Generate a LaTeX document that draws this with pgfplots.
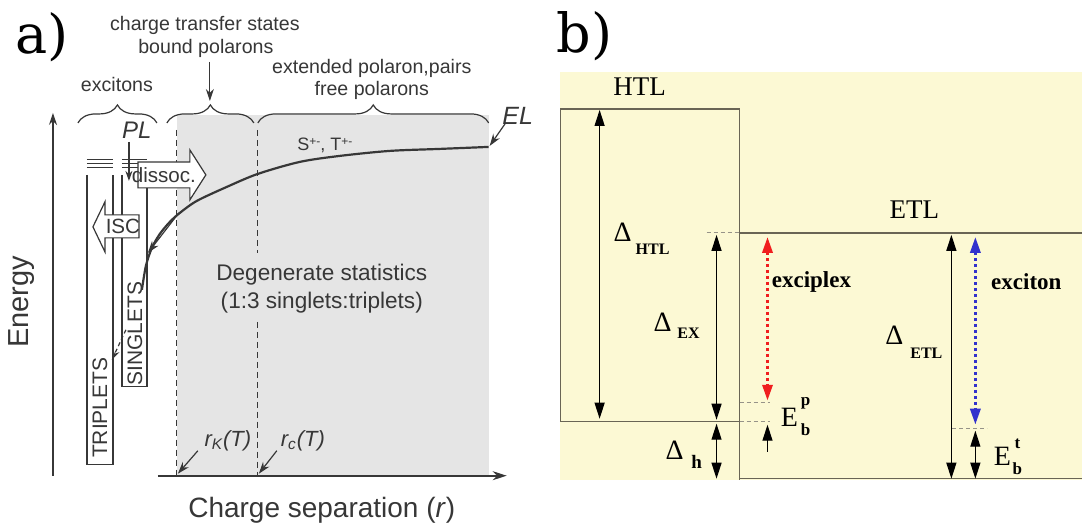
\documentclass[border=0pt]{standalone}
\usepackage{pgfplots}
\pgfplotsset{compat=1.18}
\usepackage{fontspec}
\setmainfont{Liberation Sans}
\newfontfamily\tnr{Liberation Serif}
\newfontfamily\djs{DejaVu Serif}
\usetikzlibrary{arrows.meta,decorations.pathreplacing}
\definecolor{shade}{RGB}{229,229,229}
\definecolor{yel}{RGB}{252,249,212}
\definecolor{ln}{RGB}{55,55,55}
\definecolor{boxln}{RGB}{105,101,85}
\definecolor{myred}{RGB}{240,30,30}
\definecolor{myblue}{RGB}{50,50,205}
\newcommand{\fs}[1]{\fontsize{#1}{#1}\selectfont}
\begin{document}
\begin{tikzpicture}
\begin{axis}[
  scale only axis, width=541.5pt, height=264.5pt,
  xmin=0, xmax=1083, ymin=0, ymax=529, y dir=reverse,
  axis lines=none, clip=false,
  tri/.style={-{Triangle[width=5pt,length=8pt]}},
  dtri/.style={{Triangle[width=5pt,length=8pt]}-{Triangle[width=5pt,length=8pt]}},
]
% backgrounds
\addplot[fill=white, draw=none] coordinates {(0,0) (1083,0) (1083,529) (0,529)} -- cycle;
\addplot[fill=shade, draw=none] coordinates {(177,115) (489,115) (489,476) (177,476)} -- cycle;
\addplot[fill=yel, draw=none] coordinates {(560,72) (1083,72) (1083,480) (560,480)} -- cycle;

%%%%%%%%%%%%%%%% panel a %%%%%%%%%%%%%%%%
\node[font=\djs\fs{27pt}] at (42,37) {a)};
\node[font=\fs{9.8pt}, text=ln] at (205,25) {charge transfer states};
\node[font=\fs{9.8pt}, text=ln] at (206,48) {bound polarons};
\node[font=\fs{9.8pt}, text=ln] at (117,85) {excitons};
\node[font=\fs{9.8pt}, text=ln] at (372,68) {extended polaron,pairs};
\node[font=\fs{9.8pt}, text=ln] at (372,90) {free polarons};
\addplot[ln, line width=0.6pt, -{Stealth[length=6pt,width=4pt]}] coordinates {(210,62) (210,101)};
% braces
\draw[ln, line width=0.6pt, decorate, decoration={brace, amplitude=9pt}] (78,123) -- (157,123);
\draw[ln, line width=0.6pt, decorate, decoration={brace, amplitude=9pt}] (167,123) -- (254,123);
\draw[ln, line width=0.6pt, decorate, decoration={brace, amplitude=9pt}] (258,123) -- (489,123);
% axes
\addplot[ln, line width=0.6pt, -{Stealth[length=6pt,width=4pt]}] coordinates {(53,476) (53,113)};
\addplot[ln, line width=0.8pt, -{Stealth[length=7pt,width=4.5pt]}] coordinates {(158,476) (507,476)};
\node[font=\fs{14.5pt}, text=ln, rotate=90] at (22,302) {Energy};
\node[font=\fs{14pt}, text=ln] at (322,511) {Charge separation (\textit{r})};
% dashed boundaries
\addplot[ln, line width=0.5pt, dash pattern=on 3pt off 2pt] coordinates {(177,130) (177,476)};
\addplot[ln, line width=0.5pt, dash pattern=on 3pt off 2pt] coordinates {(258,130) (258,253)};
\addplot[ln, line width=0.5pt, dash pattern=on 3pt off 2pt] coordinates {(258,322) (258,476)};
% level lines
\addplot[ln, line width=0.5pt] coordinates {(87,160) (113,160)};
\addplot[ln, line width=0.5pt] coordinates {(87,164) (113,164)};
\addplot[ln, line width=0.5pt] coordinates {(87,168) (113,168)};
\addplot[ln, line width=0.5pt] coordinates {(122,160) (147,160)};
\addplot[ln, line width=0.5pt] coordinates {(122,164) (147,164)};
\addplot[ln, line width=0.5pt] coordinates {(122,168) (147,168)};
% boxes
\addplot[ln, line width=0.6pt] coordinates {(87,175) (87,465) (113,465) (113,175)};
\addplot[ln, line width=0.6pt] coordinates {(122,175) (122,387) (147,387) (147,175)};
\node[font=\fs{10.5pt}, text=ln, rotate=90] at (100,408) {TRIPLETS};
\node[font=\fs{10.5pt}, text=ln, rotate=90] at (135,334) {SINGLETS};
% PL
\node[font=\itshape\fs{12pt}, text=ln] at (137,130) {PL};
\addplot[ln, line width=0.6pt, -{Stealth[length=5pt,width=3.5pt]}] coordinates {(129,142) (129,181)};
% curve
\addplot[ln, line width=1.1pt, smooth] coordinates {
 (142,290) (146,266) (152,248) (160,234) (170,222) (180,213) (197,201) (227,187)
 (258,174) (300,162) (340,156) (390,151) (440,149) (489,147)};
\addplot[ln, line width=0.6pt, -{Stealth[length=6pt,width=4pt]}] coordinates {(179,213) (148,253)};
\addplot[ln, line width=0.6pt, dash pattern=on 2pt off 1.5pt, -{Stealth[length=5pt,width=3.5pt]}] coordinates {(126,330) (112,360)};
% dissoc arrow
\addplot[ln, line width=0.6pt, fill=white] coordinates {(138,162) (190,162) (190,150) (206,175) (190,200) (190,188) (138,188)} -- cycle;
\node[font=\fs{10.3pt}, text=ln] at (164,175) {dissoc.};
% ISC arrow
\addplot[ln, line width=0.6pt, fill=white] coordinates {(139,215) (105,215) (105,202) (93,227) (105,252) (105,238) (139,238)} -- cycle;
\node[font=\fs{10.3pt}, text=ln] at (123,227) {ISC};
% labels in grey area
\node[font=\fs{9pt}, text=ln] at (325,145) {S\raisebox{0.5ex}{\fs{6pt}+-}, T\raisebox{0.5ex}{\fs{6pt}+-}};
\node[font=\fs{11.3pt}, text=ln] at (322,275) {Degenerate statistics};
\node[font=\fs{11.3pt}, text=ln] at (322,303) {(1:3 singlets:triplets)};
\node[font=\itshape\fs{12.5pt}, text=ln] at (518,116) {EL};
\addplot[ln, line width=0.6pt, -{Stealth[length=6pt,width=4pt]}] coordinates {(506,123) (490,146)};
\node[font=\itshape\fs{11pt}, text=ln] at (228,441) {r\textsubscript{K}(T)};
\node[font=\itshape\fs{11pt}, text=ln] at (303,441) {r\textsubscript{c}(T)};
\addplot[ln, line width=0.6pt, -{Stealth[length=6pt,width=4pt]}] coordinates {(198,451) (178,474)};
\addplot[ln, line width=0.6pt, -{Stealth[length=6pt,width=4pt]}] coordinates {(277,451) (259,474)};

%%%%%%%%%%%%%%%% panel b %%%%%%%%%%%%%%%%
\node[font=\djs\fs{27pt}] at (585,36) {b)};
\addplot[boxln, line width=0.7pt] coordinates {(740,422) (561,422) (561,109) (740,109) (740,480)};
\addplot[boxln, line width=0.7pt] coordinates {(740,233) (1083,233)};
\addplot[boxln, line width=0.7pt] coordinates {(740,479) (1083,479)};
\addplot[boxln!70, line width=0.4pt, dash pattern=on 2pt off 1.5pt] coordinates {(707,233) (740,233)};
\addplot[boxln!70, line width=0.4pt, dash pattern=on 2pt off 1.5pt] coordinates {(740,403) (770,403)};
\addplot[boxln!70, line width=0.4pt, dash pattern=on 2pt off 1.5pt] coordinates {(740,422) (770,422)};
\addplot[boxln!70, line width=0.4pt, dash pattern=on 2pt off 1.5pt] coordinates {(953,429) (988,429)};
\node[font=\tnr\fs{13.5pt}] at (640,87) {HTL};
\node[font=\tnr\fs{13.5pt}] at (915,210) {ETL};
% black arrows
\addplot[black, line width=0.6pt, dtri] coordinates {(600,110) (600,419)};
\addplot[black, line width=0.6pt, dtri] coordinates {(717,235) (717,420)};
\addplot[black, line width=0.6pt, dtri] coordinates {(717,424) (717,479)};
\addplot[black, line width=0.6pt, dtri] coordinates {(952,235) (952,479)};
\addplot[black, line width=0.6pt, dtri] coordinates {(976,431) (976,479)};
\addplot[black, line width=0.6pt, tri] coordinates {(768,452) (768,425)};
% dotted arrows
\addplot[myred, line width=1.6pt, dash pattern=on 1.4pt off 1.6pt, {Triangle[width=5pt,length=8pt]}-{Triangle[width=5pt,length=8pt]}] coordinates {(768,237) (768,401)};
\addplot[myblue, line width=1.6pt, dash pattern=on 1.4pt off 1.6pt, {Triangle[width=5pt,length=8pt]}-{Triangle[width=5pt,length=8pt]}] coordinates {(976,237) (976,425)};
% labels
\node[font=\tnr\fs{14pt}] at (623,232) {Δ};
\node[font=\tnr\bfseries\fs{8pt}] at (653,249) {HTL};
\node[font=\tnr\fs{14pt}] at (663,322) {Δ};
\node[font=\tnr\bfseries\fs{8pt}] at (689,333) {EX};
\node[font=\tnr\fs{14pt}] at (675,451) {Δ};
\node[font=\tnr\bfseries\fs{9.5pt}] at (697,462) {h};
\node[font=\tnr\fs{14pt}] at (895,335) {Δ};
\node[font=\tnr\bfseries\fs{8pt}] at (927,353) {ETL};
\node[font=\tnr\bfseries\fs{11.5pt}] at (812,282) {exciplex};
\node[font=\tnr\bfseries\fs{11.5pt}] at (1027,282) {exciton};
\node[font=\tnr\fs{14pt}] at (790,418) {E};
\node[font=\tnr\bfseries\fs{8.5pt}] at (806,404) {p};
\node[font=\tnr\bfseries\fs{8.5pt}] at (806,430) {b};
\node[font=\tnr\fs{14pt}] at (1003,457) {E};
\node[font=\tnr\bfseries\fs{8.5pt}] at (1018,444) {t};
\node[font=\tnr\bfseries\fs{8.5pt}] at (1018,469) {b};
\end{axis}
\end{tikzpicture}
\end{document}
